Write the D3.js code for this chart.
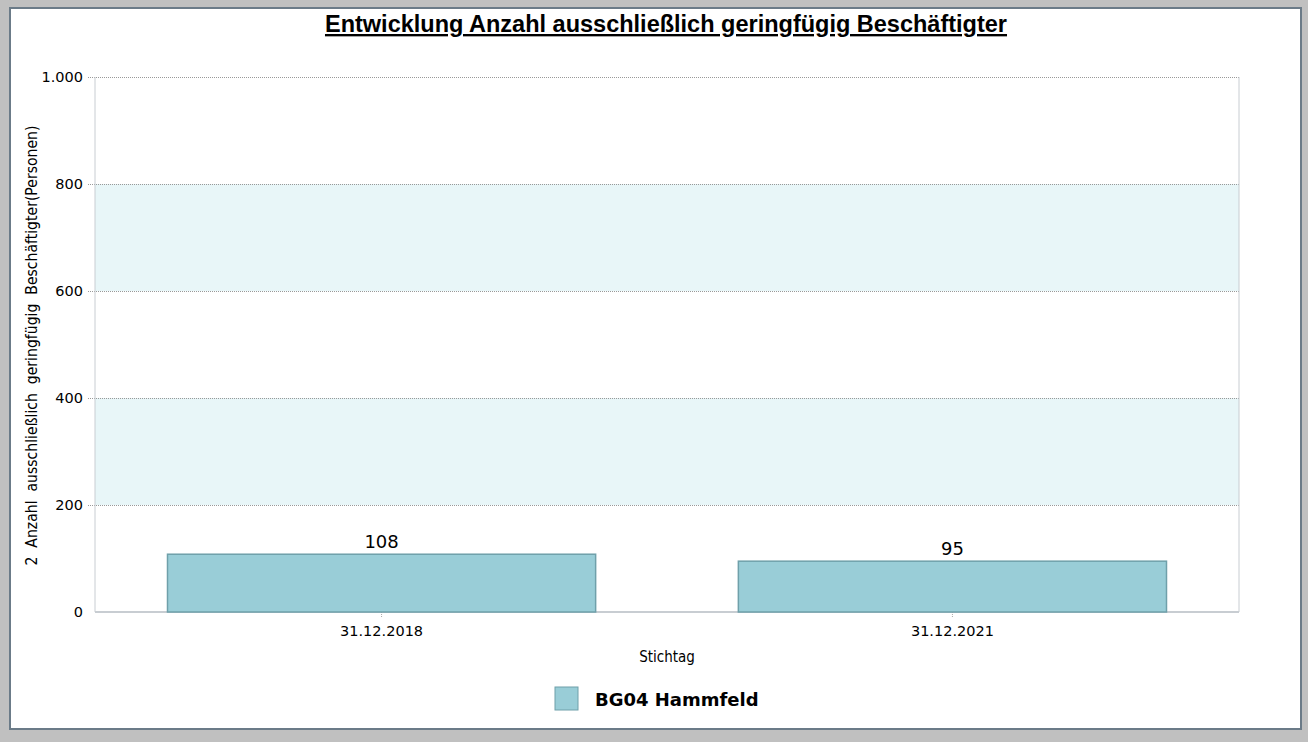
<!DOCTYPE html>
<html>
<head>
<meta charset="utf-8">
<script src="https://cdn.jsdelivr.net/npm/d3@7"></script>
<style>
  body { margin: 0; background: #c0c0c0; }
  svg { display: block; }
</style>
</head>
<body>
<div id="chart"></div>
<script>
// data
const categories = ["31.12.2018", "31.12.2021"]
const values = [108, 95]
const yTicks = [0, 200, 400, 600, 800, 1000]
const bands = [[200, 400], [600, 800]]
const seriesName = "BG04 Hammfeld"

const W = 1308, H = 742
const margin = { top: 77, bottom: 130, left: 95, right: 69 }

const svg = d3.select("#chart").append("svg")
    .attr("width", W)
    .attr("height", H)

// white panel with border
svg.append("rect")
    .attr("x", 10).attr("y", 8)
    .attr("width", 1291).attr("height", 721)
    .attr("fill", "#fff")
    .attr("stroke", "#6b7b88")
    .attr("stroke-width", 2)

const x = d3.scaleBand()
    .domain(categories)
    .range([margin.left, W - margin.right])
    .paddingInner(0.25)
    .paddingOuter(0.127)

const y = d3.scaleLinear()
    .domain([0, 1000])
    .range([H - margin.bottom, margin.top])

// alternating bands
svg.selectAll(".band")
    .data(bands)
    .join("rect")
    .attr("class", "band")
    .attr("x", margin.left)
    .attr("width", W - margin.right - margin.left)
    .attr("y", d => y(d[1]))
    .attr("height", d => y(d[0]) - y(d[1]))
    .attr("fill", "#e8f6f8")

// grid (dotted)
const yGrid = d3.axisLeft(y)
    .tickValues(yTicks.filter(d => d > 0))
    .tickSize(-(W - margin.right - margin.left) - 7)
    .tickFormat("")
svg.append("g")
    .attr("transform", `translate(${margin.left - 7},0)`)
    .call(yGrid)
    .call(g => g.select(".domain").remove())
    .call(g => g.selectAll("line")
        .attr("stroke", "#999")
        .attr("stroke-dasharray", "1,1"))

// frame lines
svg.append("line")
    .attr("x1", margin.left).attr("x2", margin.left)
    .attr("y1", y(1000)).attr("y2", y(0))
    .attr("stroke", "#c8cdd2")
svg.append("line")
    .attr("x1", W - margin.right).attr("x2", W - margin.right)
    .attr("y1", y(1000)).attr("y2", y(0))
    .attr("stroke", "#c8cdd2")
svg.append("line")
    .attr("x1", margin.left).attr("x2", W - margin.right)
    .attr("y1", y(0)).attr("y2", y(0))
    .attr("stroke", "#c8cdd2")
    .attr("stroke-width", 2)

// y axis labels
const yAxis = d3.axisLeft(y).tickValues(yTicks)
    .tickSize(0).tickPadding(12)
    .tickFormat(d => d3.format(",")(d).replace(",", "."))
svg.append("g")
    .attr("transform", `translate(${margin.left},0)`)
    .call(yAxis)
    .call(g => g.select(".domain").remove())
    .call(g => g.selectAll("text")
        .attr("font-family", "DejaVu Sans")
        .attr("font-size", 14.5)
        .attr("fill", "#000"))

// x axis
const xAxis = d3.axisBottom(x).tickSize(6).tickPadding(8)
svg.append("g")
    .attr("transform", `translate(0,${y(0)})`)
    .call(xAxis)
    .call(g => g.select(".domain").remove())
    .call(g => g.selectAll("line")
        .attr("stroke", "#aaa")
        .attr("stroke-dasharray", "1,1"))
    .call(g => g.selectAll("text")
        .attr("font-family", "DejaVu Sans")
        .attr("font-size", 14.5)
        .attr("fill", "#000"))

// bars
svg.selectAll(".bars")
    .data(values)
    .join("rect")
    .attr("class", "bars")
    .attr("x", (d, i) => x(categories[i]))
    .attr("width", x.bandwidth())
    .attr("y", d => y(d))
    .attr("height", d => y(0) - y(d))
    .attr("fill", "#99cdd7")
    .attr("stroke", "#6fa0aa")
    .attr("stroke-width", 1.5)

// value labels
svg.selectAll(".vlabel")
    .data(values)
    .join("text")
    .attr("class", "vlabel")
    .attr("x", (d, i) => x(categories[i]) + x.bandwidth() / 2)
    .attr("y", d => y(d) - 6)
    .attr("text-anchor", "middle")
    .attr("font-family", "DejaVu Sans")
    .attr("font-size", 18)
    .text(d => d)

// title
svg.append("text")
    .attr("x", 666).attr("y", 32)
    .attr("text-anchor", "middle")
    .attr("font-family", "Liberation Sans, Arial")
    .attr("font-weight", "bold")
    .attr("font-size", 23.5)
    .attr("text-decoration", "underline")
    .text("Entwicklung Anzahl ausschließlich geringfügig Beschäftigter")

// axis titles
svg.append("text")
    .attr("transform", `translate(37,${(y(0) + y(1000)) / 2 + 1}) rotate(-90)`)
    .attr("text-anchor", "middle")
    .attr("font-family", "DejaVu Sans Condensed, DejaVu Sans")
    .attr("font-size", 15.6)
    .attr("xml:space", "preserve")
    .style("white-space", "pre")
    .text("2  Anzahl  ausschließlich  geringfügig  Beschäftigter(Personen)")

svg.append("text")
    .attr("x", (margin.left + W - margin.right) / 2)
    .attr("y", 662)
    .attr("text-anchor", "middle")
    .attr("font-family", "DejaVu Sans Condensed, DejaVu Sans")
    .attr("font-size", 15)
    .text("Stichtag")

// legend
svg.append("rect")
    .attr("x", 555).attr("y", 687)
    .attr("width", 23).attr("height", 23)
    .attr("fill", "#99cdd7")
    .attr("stroke", "#6fa0aa")
svg.append("text")
    .attr("x", 595).attr("y", 706)
    .attr("font-family", "DejaVu Sans")
    .attr("font-weight", "bold")
    .attr("font-size", 18)
    .text(seriesName)
</script>
</body>
</html>
